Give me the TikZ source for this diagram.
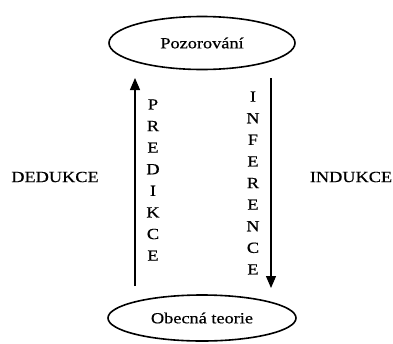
\documentclass[tikz,border=0pt]{standalone}
\usepackage{fontspec}
\setmainfont{Liberation Serif}[FakeStretch=1.18,FakeBold=0.6]
\usetikzlibrary{shapes.geometric,arrows.meta}
\begin{document}
\begin{tikzpicture}[x=1pt,y=-1pt,
  txt/.style={font=\fontsize{15.5}{21.6}\selectfont, inner sep=0pt},
  oval/.style={draw, ellipse, line width=1.6pt, inner sep=0pt, font=\fontsize{15.5}{18}\selectfont},
  arr/.style={line width=1.1pt, -{Triangle[width=10pt,length=12pt]}},
  column/.style={txt, align=center}]
  \useasboundingbox (0,0) rectangle (393,343);

  % the two states
  \node[oval, minimum width=186pt, minimum height=53pt] (poz) at (202,43) {Pozorování};
  \node[oval, minimum width=188pt, minimum height=46pt] (teo) at (202,318) {Obecná teorie};

  % arrow ends
  \coordinate (ls) at (135,286);
  \coordinate (le) at (135,78);
  \coordinate (rs) at (271,78);
  \coordinate (re) at (271,288);
  \draw[arr] (ls) -- (le);
  \draw[arr] (rs) -- (re);

  % vertical labels along the arrows
  \node[column] (pred) at (153,180) {P\\R\\E\\D\\I\\K\\C\\E};
  \node[column] (infer) at (253,183) {I\\N\\F\\E\\R\\E\\N\\C\\E};

  % side labels
  \node[txt] (ded) at (55,177) {DEDUKCE};
  \node[txt] (ind) at (351,177) {INDUKCE};
\end{tikzpicture}
\end{document}
